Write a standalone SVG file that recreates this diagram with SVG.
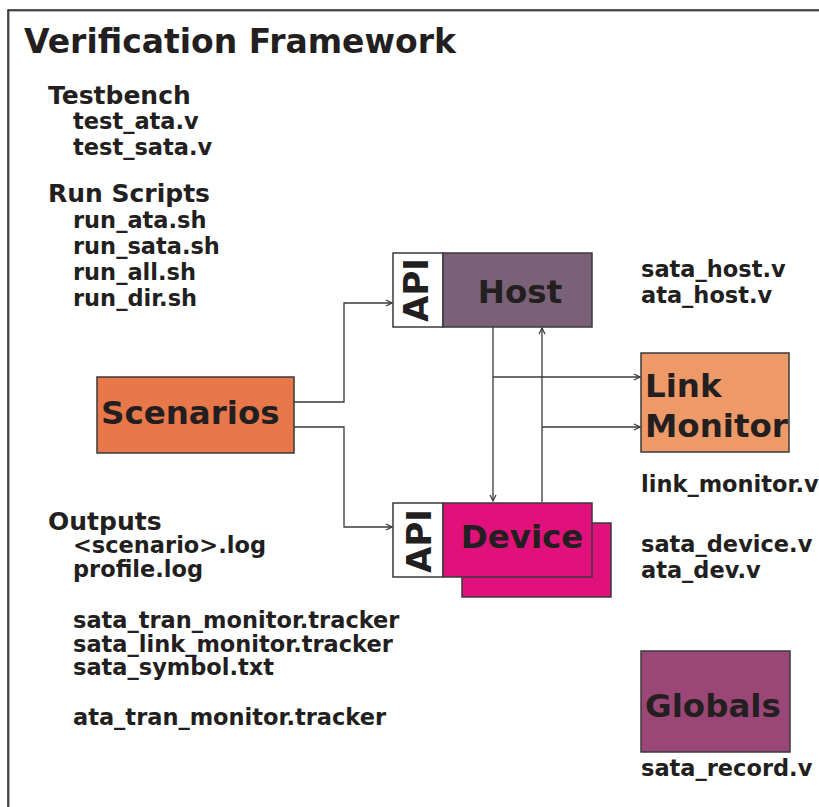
<svg xmlns="http://www.w3.org/2000/svg" width="819" height="807" viewBox="0 0 819 807">
<defs>
<style>
text{font-family:"DejaVu Sans",Verdana,sans-serif;font-weight:bold;fill:#231f20}
.t{font-size:33px}
.h{font-size:25px}
.b{font-size:22.5px}
.n{font-size:32.5px}
.api{font-size:34px}
.box{stroke:#3a3a3a;stroke-width:1.5}
.c{fill:none;stroke:#3a3a3a;stroke-width:1.3}
</style>
<marker id="ah" markerWidth="8" markerHeight="8" refX="7" refY="4" orient="auto" markerUnits="userSpaceOnUse">
<path d="M1,1 L7,4 L1,7" fill="none" stroke="#3a3a3a" stroke-width="1.2"/>
</marker>
</defs>
<rect width="819" height="807" fill="#fff"/>
<path d="M9,830 V11 H830" fill="none" stroke="#9a9a9a" stroke-width="1.5"/>
<path d="M8,830 V10 H830" fill="none" stroke="#231f20" stroke-width="1.5"/>
<text class="t" x="24" y="53">Verification Framework</text>
<g id="lists">
<text class="h" x="48" y="104">Testbench</text>
<text class="b" x="73" y="129">test_ata.v</text>
<text class="b" x="73" y="155">test_sata.v</text>
<text class="h" x="48" y="202">Run Scripts</text>
<text class="b" x="73" y="228">run_ata.sh</text>
<text class="b" x="73" y="254">run_sata.sh</text>
<text class="b" x="73" y="280">run_all.sh</text>
<text class="b" x="73" y="306">run_dir.sh</text>
<text class="h" x="48" y="530">Outputs</text>
<text class="b" x="73" y="553">&lt;scenario&gt;.log</text>
<text class="b" x="73" y="577">profile.log</text>
<text class="b" x="73" y="628">sata_tran_monitor.tracker</text>
<text class="b" x="73" y="652">sata_link_monitor.tracker</text>
<text class="b" x="73" y="675">sata_symbol.txt</text>
<text class="b" x="73" y="725">ata_tran_monitor.tracker</text>
<text class="b" x="641" y="277">sata_host.v</text>
<text class="b" x="641" y="303">ata_host.v</text>
<text class="b" x="641" y="492">link_monitor.v</text>
<text class="b" x="641" y="552">sata_device.v</text>
<text class="b" x="641" y="578">ata_dev.v</text>
<text class="b" x="641" y="776">sata_record.v</text>
</g>
<g id="connectors">
<path class="c" d="M294,402 H344 V303 H392" marker-end="url(#ah)"/>
<path class="c" d="M294,427 H344 V527 H392" marker-end="url(#ah)"/>
<path class="c" d="M493,327 V501" marker-end="url(#ah)"/>
<path class="c" d="M542,502 V328" marker-end="url(#ah)"/>
<path class="c" d="M493,377 H640" marker-end="url(#ah)"/>
<path class="c" d="M542,427 H640" marker-end="url(#ah)"/>
</g>
<g id="scenarios">
<rect class="box" x="97" y="377" width="197" height="76" fill="#e8784a"/>
<text class="n" x="101" y="424">Scenarios</text>
</g>
<g id="host">
<rect class="box" x="393" y="253" width="50" height="74" fill="#fff"/>
<rect class="box" x="443" y="253" width="149" height="74" fill="#7a6178"/>
<text class="api" transform="translate(428,290) rotate(-90)" text-anchor="middle">API</text>
<text class="n" x="520" y="303" text-anchor="middle">Host</text>
</g>
<g id="device">
<rect class="box" x="462" y="523" width="149" height="74" fill="#e0117b"/>
<rect class="box" x="393" y="503" width="50" height="74" fill="#fff"/>
<rect class="box" x="443" y="503" width="149" height="74" fill="#e0117b"/>
<text class="api" transform="translate(431,541) rotate(-90)" text-anchor="middle">API</text>
<text class="n" x="522" y="548" text-anchor="middle">Device</text>
</g>
<g id="linkmonitor">
<rect class="box" x="641" y="353" width="148" height="99" fill="#ee9a68"/>
<text class="n" x="645" y="397">Link</text>
<text class="n" x="645" y="437">Monitor</text>
</g>
<g id="globals">
<rect class="box" x="641" y="651" width="149" height="101" fill="#9a4677"/>
<text class="n" x="645" y="717">Globals</text>
</g>
</svg>
